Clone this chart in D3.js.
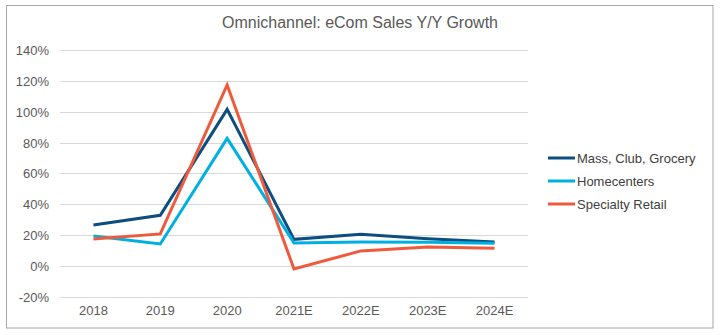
<!DOCTYPE html>
<html><head><meta charset="utf-8">
<script src="https://cdn.jsdelivr.net/npm/d3@7"></script>
<style>body{margin:0;background:#fff;}svg{display:block;font-family:"Liberation Sans",Arial,sans-serif;}</style>
</head><body>
<svg id="c" width="722" height="335"></svg>
<script>
const categories = ["2018","2019","2020","2021E","2022E","2023E","2024E"];
const massClubGrocery = [26.5, 32.8, 101.5, 17.2, 20.5, 17.6, 15.5];
const homecenters = [19.4, 14.2, 82.7, 14.8, 15.5, 15.3, 14.6];
const specialtyRetail = [17.4, 20.7, 117.3, -2.0, 9.7, 12.3, 11.4];
const yTicks = [-20, 0, 20, 40, 60, 80, 100, 120, 140];
const seriesNames = ["Mass, Club, Grocery", "Homecenters", "Specialty Retail"];
const seriesColors = ["#0c4e80", "#00b0e0", "#f05a3c"];
const series = [massClubGrocery, homecenters, specialtyRetail];

const svg = d3.select("#c");
svg.append("rect").attr("x",6.5).attr("y",5.5).attr("width",706.5).attr("height",322.5)
  .attr("fill","#fff").attr("stroke","#a6a6a6").attr("stroke-width",1);

const x = d3.scaleBand().domain(categories).range([60, 528]);
const y = d3.scaleLinear().domain([-20, 140]).range([296.7, 50]);

const grid = svg.append("g");
grid.selectAll("line").data(yTicks).join("line")
  .attr("x1",60).attr("x2",528)
  .attr("y1",d=>Math.round(y(d))+0.5).attr("y2",d=>Math.round(y(d))+0.5)
  .attr("stroke","#d9d9d9").attr("stroke-width",1);

const yAxis = svg.append("g").attr("transform","translate(49,0)")
  .call(d3.axisLeft(y).tickValues(yTicks).tickSize(0).tickPadding(0).tickFormat(d=>d+"%"));
yAxis.select(".domain").remove();
yAxis.selectAll("text").attr("fill","#595959").style("font-size","13px").attr("dy","0.35em");

const xAxis = svg.append("g").attr("transform","translate(0,304)")
  .call(d3.axisBottom(x).tickSize(0).tickPadding(0));
xAxis.select(".domain").remove();
xAxis.selectAll("text").attr("fill","#595959").style("font-size","13px").attr("dy","0.85em");

const line = d3.line().x((d,i)=>x(categories[i])+x.bandwidth()/2).y(d=>y(d));
series.forEach((s,k)=>{
  svg.append("path").datum(s).attr("d",line).attr("fill","none")
    .attr("stroke",seriesColors[k]).attr("stroke-width",3).attr("stroke-linejoin","miter");
});

svg.append("text").attr("x",360).attr("y",28).attr("text-anchor","middle")
  .attr("fill","#595959").style("font-size","16px").text("Omnichannel: eCom Sales Y/Y Growth");

const lg = svg.append("g");
seriesNames.forEach((n,k)=>{
  const yy = 158 + k*23;
  lg.append("line").attr("x1",548).attr("x2",575).attr("y1",yy).attr("y2",yy)
    .attr("stroke",seriesColors[k]).attr("stroke-width",3);
  lg.append("text").attr("x",577).attr("y",yy).attr("dy","0.35em")
    .attr("fill","#404040").style("font-size","13px").text(n);
});
</script>
</body></html>
